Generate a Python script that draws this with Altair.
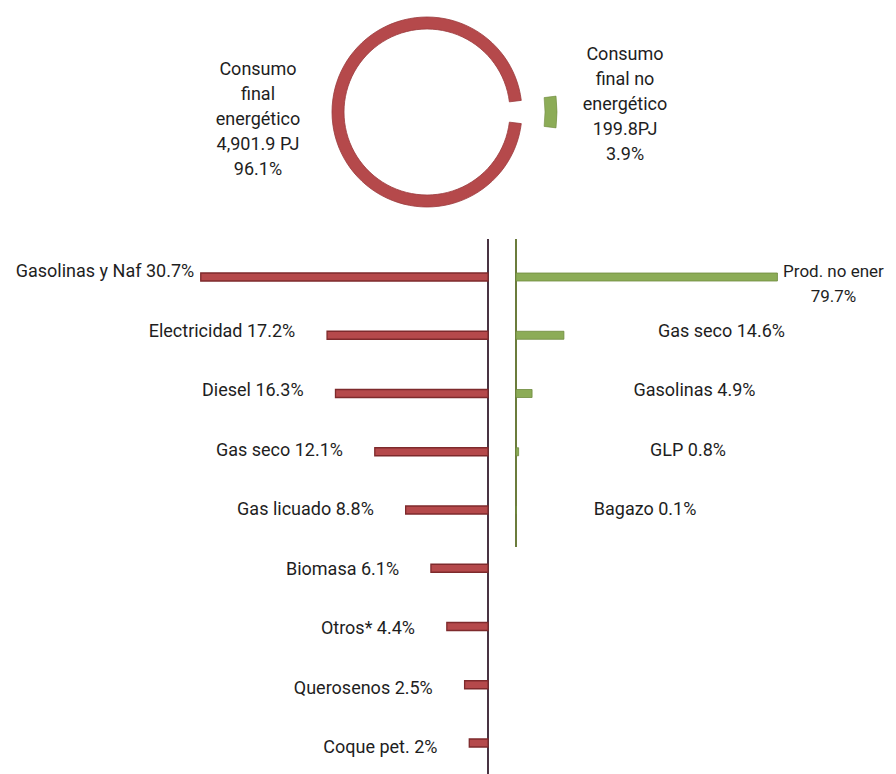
import math
import altair as alt
import pandas as pd

# ---------------- data ----------------
donut_names = ["Consumo\nfinal no\nenergético", "Consumo\nfinal\nenergético"]
donut_pj = ["199.8PJ", "4,901.9 PJ"]
donut_pct = [3.9, 96.1]

left_labels = ["Gasolinas y Naf", "Electricidad", "Diesel", "Gas seco", "Gas licuado",
               "Biomasa", "Otros*", "Querosenos", "Coque pet."]
left_values = [30.7, 17.2, 16.3, 12.1, 8.8, 6.1, 4.4, 2.5, 2.0]

right_labels = ["Prod. no ener", "Gas seco", "Gasolinas", "GLP", "Bagazo"]
right_values = [79.7, 14.6, 4.9, 0.8, 0.1]

# ---------------- tables ----------------
donut_df = pd.DataFrame({
    "name": donut_names, "pj": donut_pj, "pct": donut_pct,
    "order": list(range(len(donut_names))),
})
left_df = pd.DataFrame({"label": left_labels, "value": left_values,
                        "row": list(range(len(left_labels)))})
right_df = pd.DataFrame({"label": right_labels, "value": right_values,
                         "row": list(range(len(right_labels)))})

FONT = "Roboto"
RED = "#b5494b"
RED_DARK = "#7e2a2c"
GREEN = "#8cac57"
GREEN_DARK = "#6f8a3e"
TXT = "#1e1e1e"
FS = 18

W, H = 880, 766
CX, CY = 419, 104

# ---------------- donut ----------------
half = math.pi * donut_pct[0] / 100.0
start = math.pi / 2 - half
theta_scale = alt.Scale(domain=[0, 1], range=[start, start + 2 * math.pi])

donut_base = alt.Chart(donut_df).transform_joinaggregate(
    total="sum(pct)"
).transform_window(
    cum="sum(pct)", sort=[alt.SortField("order")]
).transform_calculate(
    t0="(datum.cum - datum.pct) / datum.total",
    t1="datum.cum / datum.total",
)

ring = donut_base.transform_filter("datum.order == 1").mark_arc(
    innerRadius=83, outerRadius=95, color=RED, stroke="#9a3a3c", strokeWidth=0.8
).encode(
    theta=alt.Theta("t0:Q", scale=theta_scale),
    theta2="t1:Q",
    x=alt.value(CX), y=alt.value(CY),
)
ring_small = donut_base.transform_filter("datum.order == 0").mark_arc(
    innerRadius=118, outerRadius=130, color=GREEN, stroke=GREEN_DARK, strokeWidth=0.6
).encode(
    theta=alt.Theta("t0:Q", scale=theta_scale),
    theta2="t1:Q",
    x=alt.value(CX), y=alt.value(CY),
)

donut_text_base = alt.Chart(donut_df).transform_calculate(
    txt="datum.name + '\\n' + datum.pj + '\\n' + datum.pct + '%'"
)
txt_energy = donut_text_base.transform_filter("datum.order == 1").mark_text(
    font=FONT, fontSize=18, lineHeight=25, align="center", baseline="middle",
    color=TXT, lineBreak="\n"
).encode(text="txt:N", x=alt.value(CX - 169), y=alt.value(CY - 42))
txt_non = donut_text_base.transform_filter("datum.order == 0").mark_text(
    font=FONT, fontSize=18, lineHeight=25, align="center", baseline="middle",
    color=TXT, lineBreak="\n"
).encode(text="txt:N", x=alt.value(CX + 198), y=alt.value(CY - 57))

# ---------------- bars ----------------
y_scale = alt.Scale(domain=[0, 8], range=[264, 740], zero=False, nice=False)
xl_scale = alt.Scale(domain=[0, 51.3], range=[480, 0], zero=False, nice=False)
xr_scale = alt.Scale(domain=[0, 113.4], range=[508, 880], zero=False, nice=False)

left = alt.Chart(left_df)
left_bars = left.mark_bar(size=8, color=RED, stroke=RED_DARK, strokeWidth=1.3,
                          orient="horizontal").encode(
    x=alt.X("value:Q", scale=xl_scale, axis=None),
    x2=alt.datum(0),
    y=alt.Y("row:Q", scale=y_scale, axis=None),
)
left_text = left.transform_calculate(
    txt="datum.label + ' ' + datum.value + '%'",
    lx="min(datum.value + 3.4, 31.4)",
).mark_text(font=FONT, fontSize=FS, align="right", baseline="middle", color=TXT).encode(
    x=alt.X("lx:Q", scale=xl_scale, axis=None),
    y=alt.Y("row:Q", scale=y_scale, axis=None),
    text="txt:N",
)
left_axis = left.mark_rule(color="#4a3443", strokeWidth=1.5).encode(
    x=alt.X(datum=0, scale=xl_scale, axis=None),
    y=alt.Y(datum=-0.55, scale=y_scale, axis=None),
    y2=alt.datum(8.7),
)

right = alt.Chart(right_df)
right_bars = right.mark_bar(size=8, color=GREEN, stroke=GREEN_DARK, strokeWidth=0.8,
                            orient="horizontal").encode(
    x=alt.X("value:Q", scale=xr_scale, axis=None),
    x2=alt.datum(0),
    y=alt.Y("row:Q", scale=y_scale, axis=None),
)
right_text_first = right.transform_filter("datum.row == 0").transform_calculate(
    txt="datum.label + '\\n' + datum.value + '%'"
).mark_text(font=FONT, fontSize=17, align="center", baseline="middle", color=TXT,
            lineBreak="\n", lineHeight=25, dx=56).encode(
    x=alt.X("value:Q", scale=xr_scale, axis=None),
    y=alt.Y("row:Q", scale=y_scale, axis=None),
    text="txt:N",
)
right_text_rest = right.transform_filter("datum.row > 0").transform_calculate(
    txt="datum.label + ' ' + datum.value + '%'",
    lx="82 - 9 * (datum.row - 1)",
).mark_text(font=FONT, fontSize=FS, align="right", baseline="middle", color=TXT).encode(
    x=alt.X("lx:Q", scale=xr_scale, axis=None),
    y=alt.Y("row:Q", scale=y_scale, axis=None),
    text="txt:N",
)
right_axis = right.mark_rule(color="#6b7c3c", strokeWidth=1.5).encode(
    x=alt.X(datum=0, scale=xr_scale, axis=None),
    y=alt.Y(datum=-0.55, scale=y_scale, axis=None),
    y2=alt.datum(4.62),
)

chart = alt.layer(
    ring, ring_small, txt_energy, txt_non,
    left_axis, left_bars, left_text,
    right_axis, right_bars, right_text_first, right_text_rest,
).resolve_scale(x="independent", y="independent").properties(
    width=W, height=H,
    autosize=alt.AutoSizeParams(type="none"),
    padding=0,
).configure_view(stroke=None)

chart.save("out.html", embed_options={"renderer": "svg", "actions": False})
